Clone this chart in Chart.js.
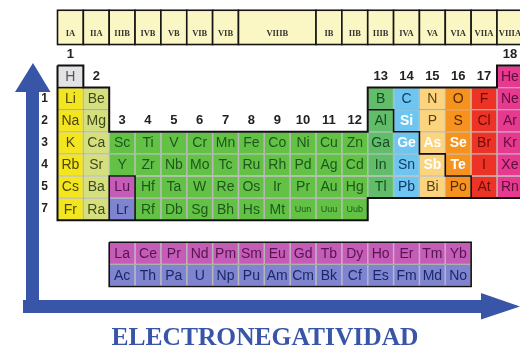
<!DOCTYPE html>
<html>
<head>
<meta charset="utf-8">
<script src="https://cdn.jsdelivr.net/npm/chart.js@4.4.0/dist/chart.umd.min.js"></script>
<style>
  html, body { margin: 0; padding: 0; background: #fff; }
  #wrap { width: 520px; height: 349px; }
</style>
</head>
<body>
<div id="wrap"><canvas id="tableChart" width="520" height="349"></canvas></div>
<script>
// symbols by table row, '' = empty slot (row 7 is the gap before the f-block)
const tableRows = [
  ['H', '', '', '', '', '', '', '', '', '', '', '', '', '', '', '', '', 'He'],
  ['Li', 'Be', '', '', '', '', '', '', '', '', '', '', 'B', 'C', 'N', 'O', 'F', 'Ne'],
  ['Na', 'Mg', '', '', '', '', '', '', '', '', '', '', 'Al', 'Si', 'P', 'S', 'Cl', 'Ar'],
  ['K', 'Ca', 'Sc', 'Ti', 'V', 'Cr', 'Mn', 'Fe', 'Co', 'Ni', 'Cu', 'Zn', 'Ga', 'Ge', 'As', 'Se', 'Br', 'Kr'],
  ['Rb', 'Sr', 'Y', 'Zr', 'Nb', 'Mo', 'Tc', 'Ru', 'Rh', 'Pd', 'Ag', 'Cd', 'In', 'Sn', 'Sb', 'Te', 'I', 'Xe'],
  ['Cs', 'Ba', 'Lu', 'Hf', 'Ta', 'W', 'Re', 'Os', 'Ir', 'Pr', 'Au', 'Hg', 'Tl', 'Pb', 'Bi', 'Po', 'At', 'Rn'],
  ['Fr', 'Ra', 'Lr', 'Rf', 'Db', 'Sg', 'Bh', 'Hs', 'Mt', 'Uun', 'Uuu', 'Uub'],
  [],
  ['', '', 'La', 'Ce', 'Pr', 'Nd', 'Pm', 'Sm', 'Eu', 'Gd', 'Tb', 'Dy', 'Ho', 'Er', 'Tm', 'Yb'],
  ['', '', 'Ac', 'Th', 'Pa', 'U', 'Np', 'Pu', 'Am', 'Cm', 'Bk', 'Cf', 'Es', 'Fm', 'Md', 'No']
];

// family code of each slot, one char per column
const familyRows = [
  'H----------------N',
  'AE----------BCPOXN',
  'AE----------BCPOXN',
  'AETTTTTTTTTTBCPOXN',
  'AETTTTTTTTTTBCPOXN',
  'AELTTTTTTTTTBCPOXN',
  'AEKTTTTTTTTT',
  '',
  '--LLLLLLLLLLLLLL',
  '--KKKKKKKKKKKKKK'
];

const whiteText = ['Si', 'Ge', 'As', 'Sb', 'Se', 'Te'];

const headerLabels = ['IA', 'IIA', 'IIIB', 'IVB', 'VB', 'VIB', 'VIB', 'VIIIB', 'IB', 'IIB', 'IIIB', 'IVA', 'VA', 'VIA', 'VIIA', 'VIIIA'];
const headerSpans = [1, 1, 1, 1, 1, 1, 1, 3, 1, 1, 1, 1, 1, 1, 1, 1];

const groupNumbers = ['1', '2', '3', '4', '5', '6', '7', '8', '9', '10', '11', '12', '13', '14', '15', '16', '17', '18'];
const periodLabels = ['1', '2', '3', '4', '5', '7'];   // drawn on table rows 1..6

const titleText = 'ELECTRONEGATIVIDAD';

// styles
const familyCodes = ['H', 'A', 'E', 'T', 'L', 'K', 'B', 'C', 'P', 'O', 'X', 'N'];
const familyFill = ['#e3e3e6', '#f3e61f', '#d5df7e', '#63c246', '#c55cb7', '#7e84cf', '#62bd6a', '#6ec5ef', '#fdd47e', '#f6931f', '#ec3325', '#e6398f'];
const familyInk = ['#555555', '#4c4710', '#3e4a1a', '#1d571c', '#561452', '#1c2866', '#174b21', '#0f3d6b', '#5b4210', '#5a2900', '#6e0c08', '#5e0e3b'];
const blue = '#3855a8';

const cells = [];
tableRows.forEach((row, r) => row.forEach((sym, c) => {
  if (!sym) return;
  cells.push({ x: c + 0.5, y: [r, r + 1], symbol: sym, family: familyCodes.indexOf(familyRows[r][c]) });
}));

// black outlines in grid edge units
const tableOutline = [[0, 0], [1, 0], [1, 1], [2, 1], [2, 3], [12, 3], [12, 1], [17, 1], [17, 0], [18, 0], [18, 6], [12, 6], [12, 7], [0, 7], [0, 0]];
const innerLines = [
  [[0, 1], [1, 1]],
  [[2, 7], [2, 5], [3, 5], [3, 7]],
  [[12, 2], [13, 2], [13, 3], [14, 3], [14, 4], [15, 4], [15, 5], [16, 5], [16, 6]],
  [[2, 8], [16, 8], [16, 10], [2, 10], [2, 8]]
];

function strokePath(ctx, x, y, pts) {
  ctx.beginPath();
  pts.forEach(([cx, ry], i) => {
    const px = x.getPixelForValue(cx), py = y.getPixelForValue(ry);
    if (i === 0) ctx.moveTo(px, py); else ctx.lineTo(px, py);
  });
  ctx.stroke();
}

const tableDecor = {
  id: 'tableDecor',
  beforeDatasetsDraw(chart) {
    const { ctx, scales: { x, y } } = chart;
    ctx.save();

    // group header boxes
    let edge = 0;
    const top = y.getPixelForValue(-2.5), bottom = y.getPixelForValue(-0.95);
    headerLabels.forEach((label, i) => {
      const x0 = x.getPixelForValue(edge), x1 = x.getPixelForValue(edge + headerSpans[i]);
      ctx.fillStyle = '#fbf7c4';
      ctx.fillRect(x0, top, x1 - x0, bottom - top);
      ctx.strokeStyle = '#151515';
      ctx.lineWidth = 1.6;
      ctx.strokeRect(x0, top, x1 - x0, bottom - top);
      ctx.fillStyle = '#333';
      ctx.font = 'bold 8.5px "Liberation Serif", serif';
      ctx.textAlign = 'center';
      ctx.textBaseline = 'alphabetic';
      ctx.fillText(label, (x0 + x1) / 2, y.getPixelForValue(-1.32));
      edge += headerSpans[i];
    });

    // arrows
    ctx.fillStyle = blue;
    ctx.fillRect(26, 90, 13, 223);
    ctx.beginPath();
    ctx.moveTo(33, 63); ctx.lineTo(50.5, 92); ctx.lineTo(15, 92); ctx.closePath();
    ctx.fill();
    ctx.fillRect(23, 300, 460, 13);
    ctx.beginPath();
    ctx.moveTo(481, 293); ctx.lineTo(520, 306.5); ctx.lineTo(481, 319.5); ctx.closePath();
    ctx.fill();

    // title
    ctx.font = 'bold 25.5px "Liberation Serif", serif';
    ctx.textAlign = 'center';
    ctx.textBaseline = 'alphabetic';
    ctx.fillText(titleText, 265, 345);
    ctx.restore();
  },
  afterDatasetsDraw(chart) {
    const { ctx, scales: { x, y } } = chart;
    ctx.save();
    ctx.textAlign = 'center';
    ctx.textBaseline = 'middle';

    // symbols
    chart.getDatasetMeta(0).data.forEach((bar, i) => {
      const cell = cells[i];
      const white = whiteText.includes(cell.symbol);
      const size = cell.symbol.length > 2 ? 9 : 14;
      ctx.font = (white ? 'bold ' : '') + size + 'px "Liberation Sans", Arial, sans-serif';
      ctx.fillStyle = white ? '#ffffff' : familyInk[cell.family];
      ctx.fillText(cell.symbol, bar.x, (bar.y + bar.base) / 2 + 0.5);
    });

    // outlines
    ctx.strokeStyle = '#111';
    ctx.lineWidth = 2;
    ctx.lineJoin = 'miter';
    strokePath(ctx, x, y, tableOutline);
    ctx.lineWidth = 1.6;
    innerLines.forEach(pts => strokePath(ctx, x, y, pts));

    // group numbers above the first filled slot of each column
    ctx.fillStyle = '#222';
    ctx.font = 'bold 13px "Liberation Sans", Arial, sans-serif';
    groupNumbers.forEach((num, c) => {
      const firstRow = tableRows.findIndex(row => row[c]);
      ctx.fillText(num, x.getPixelForValue(c + 0.5), y.getPixelForValue(firstRow - 0.5));
    });

    // period numbers
    ctx.font = 'bold 12px "Liberation Sans", Arial, sans-serif';
    periodLabels.forEach((p, i) => {
      ctx.fillText(p, x.getPixelForValue(-0.5), y.getPixelForValue(i + 1.5));
    });
    ctx.restore();
  }
};

const ctx = document.getElementById('tableChart').getContext('2d');

const tableChart = new Chart(ctx, {
  type: 'bar',
  data: {
    datasets: [{
      data: cells,
      backgroundColor: c => familyFill[c.raw.family],
      borderColor: 'rgba(0, 0, 0, 0.22)',
      borderWidth: 1,
      borderSkipped: false,
      categoryPercentage: 1,
      barPercentage: 1
    }]
  },
  options: {
    responsive: false,
    animation: false,
    events: [],
    layout: { padding: { left: 57.5, right: 0, top: 0, bottom: 0 } },
    scales: {
      x: { type: 'linear', min: 0, max: 17.89, offset: false, display: false },
      y: { min: -2.964, max: 12.828, reverse: true, display: false }
    },
    plugins: {
      legend: { display: false },
      tooltip: { enabled: false }
    }
  },
  plugins: [tableDecor]
});
</script>
</body>
</html>
